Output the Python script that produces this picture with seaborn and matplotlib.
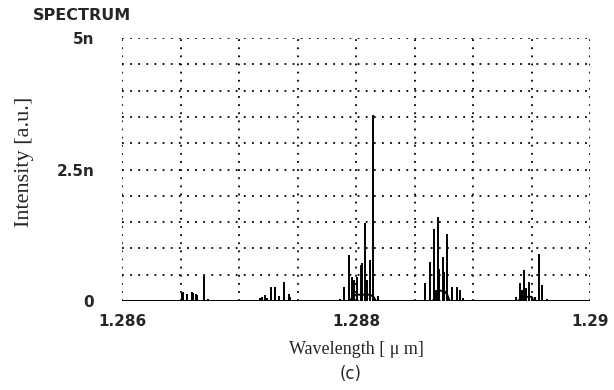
import matplotlib
matplotlib.use("Agg")
import matplotlib.pyplot as plt
import seaborn as sns
import pandas as pd
import numpy as np

# ---- data (wavelength in um, intensity in units of 1e-9 a.u.) ----
peak_wl = [
    1.286515, 1.286524, 1.286558, 1.286596, 1.286609, 1.286630, 1.286641, 1.286703, 1.286735,
    1.287179, 1.287199, 1.287222, 1.287236, 1.287271, 1.287308, 1.287344, 1.287385, 1.287425, 1.287436,
    1.287863, 1.287900, 1.287940, 1.287968, 1.287980, 1.288011, 1.288040, 1.288051, 1.288077,
    1.288091, 1.288120, 1.288148, 1.288191,
    1.288590, 1.288632, 1.288667, 1.288681, 1.288701, 1.288712, 1.288746, 1.288752, 1.288780,
    1.288818, 1.288861, 1.288889, 1.288917,
    1.289368, 1.289402, 1.289416, 1.289438, 1.289453, 1.289481, 1.289502, 1.289530, 1.289564,
    1.289592, 1.289635,
]
peak_int = [
    0.15, 0.17, 0.13, 0.17, 0.15, 0.13, 0.12, 0.48, 0.03,
    0.05, 0.07, 0.12, 0.05, 0.27, 0.27, 0.10, 0.36, 0.13, 0.08,
    0.03, 0.27, 0.87, 0.46, 0.40, 0.46, 0.68, 0.72, 1.48,
    0.40, 0.78, 3.54, 0.10,
    0.34, 0.74, 1.37, 0.20, 1.60, 0.60, 0.84, 0.55, 1.27,
    0.27, 0.27, 0.20, 0.05,
    0.08, 0.34, 0.20, 0.59, 0.25, 0.36, 0.07, 0.08, 0.89,
    0.30, 0.03,
]
bg_wl = [1.2860, 1.28795, 1.28797, 1.28800, 1.28812, 1.28815, 1.28817,
         1.28866, 1.28868, 1.28872, 1.28876, 1.28878, 1.28880,
         1.28939, 1.28941, 1.28950, 1.28952, 1.2900]
bg_int = [0.0, 0.0, 0.08, 0.12, 0.12, 0.08, 0.0,
          0.0, 0.15, 0.2, 0.18, 0.12, 0.0,
          0.0, 0.08, 0.08, 0.0, 0.0]

x_ticklabels = ["1.286", "1.288", "1.29"]
y_ticklabels = ["0", "2.5n", "5n"]

sns.set_style("white")
plt.rcParams["font.family"] = ["DejaVu Sans"]

fig = plt.figure(figsize=(6.14, 3.90), dpi=100)
ax = fig.add_axes([122/614, 1 - 301/390, (590 - 122)/614, (301 - 38)/390])

bg = pd.DataFrame({"wl": bg_wl, "I": bg_int})
sns.lineplot(data=bg, x="wl", y="I", ax=ax, color="black", lw=1.4,
             sort=False, estimator=None)
ax.vlines(peak_wl, 0, peak_int, color="black", lw=1.4)

ax.set_xlim(1.286, 1.290)
ax.set_ylim(0, 5)
for s in ax.spines.values():
    s.set_visible(False)
ax.grid(True, color="black", linestyle=(0, (1, 3.5)), lw=1.3)
ax.set_axisbelow(True)

ax.set_xticks(np.linspace(1.286, 1.290, 9))
ax.set_yticks(np.linspace(0, 5, 11))
xl = [""] * 9
xl[0], xl[4], xl[8] = x_ticklabels
ax.set_xticklabels(xl, fontfamily="DejaVu Sans", fontweight="bold", fontsize=11)
yl = [""] * 11
yl[0], yl[5], yl[10] = y_ticklabels
ax.set_yticklabels(yl, fontfamily="DejaVu Sans", fontweight="bold", fontsize=11)
ax.tick_params(axis="both", length=0)
ax.tick_params(axis="y", pad=20)
ax.tick_params(axis="x", pad=9)

ax.set_xlabel("Wavelength [ μ m]", fontfamily="Liberation Serif", fontsize=13, labelpad=9)
ax.set_ylabel("")
fig.text(25/614, 1 - 162/390, "Intensity [a.u.]", fontfamily="Liberation Serif",
         fontsize=16, rotation=90, va="center", ha="center")
fig.text(33/614, 1 - 16/390, "SPECTRUM", fontfamily="DejaVu Sans", fontweight="bold",
         fontsize=11.5, va="center", ha="left")
fig.text(351/614, 1 - 374/390, "(c)", fontfamily="DejaVu Sans", fontsize=12,
         va="center", ha="center")

fig.savefig("out.png", dpi=100)
